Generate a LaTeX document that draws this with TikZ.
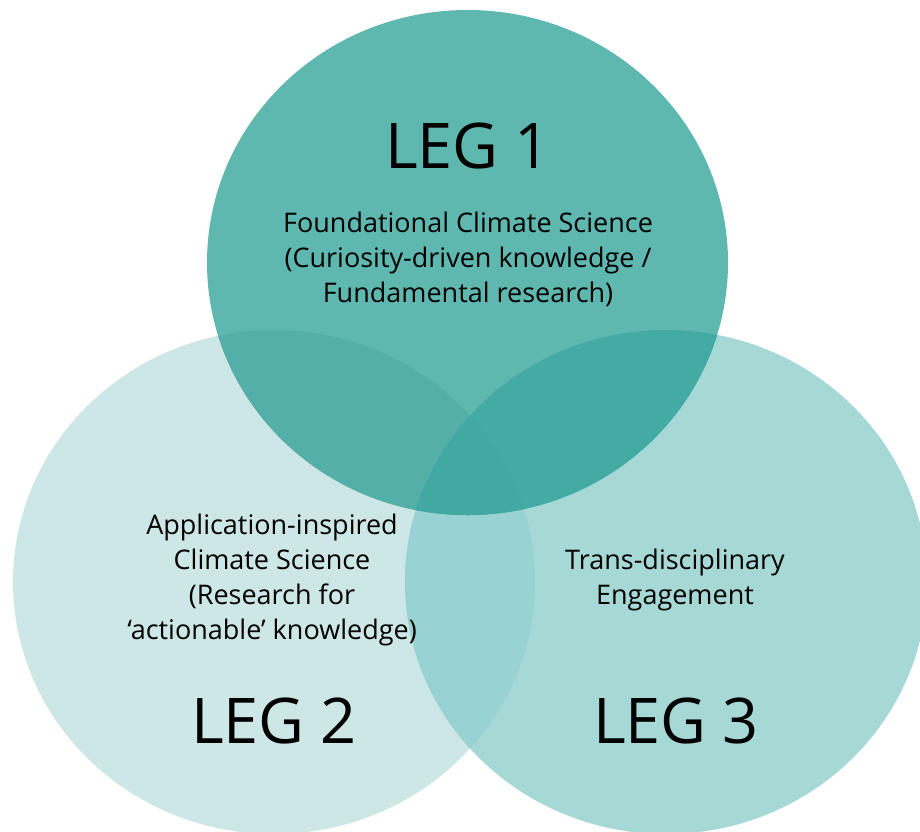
\documentclass[tikz,border=0pt]{standalone}
\usepackage{fontspec}
\setmainfont{Open Sans}
\definecolor{cT}{HTML}{5FB8B0}
\definecolor{cL}{HTML}{CCE7E5}
\definecolor{cR}{HTML}{A6D8D5}
\definecolor{cLR}{HTML}{98D2D2}
\definecolor{cTL}{HTML}{55AFA9}
\definecolor{cTR}{HTML}{43AAA4}
\definecolor{cTLR}{HTML}{42A8A2}
\tikzset{
  leg/.style={font=\fontsize{63}{70}\selectfont, text=black, inner sep=0pt},
  desc/.style={font=\fontsize{27}{35}\selectfont, text=black, align=center, inner sep=0pt},
}
\begin{document}
\begin{tikzpicture}[x=1pt,y=-1pt]
\useasboundingbox (0,0) rectangle (920,831);
\def\Tpath{(467.5,262.5) ellipse [x radius=260.5, y radius=252.5]}
\def\Lpath{(274,582) ellipse [x radius=261, y radius=252]}
\def\Rpath{(666,582) ellipse [x radius=261, y radius=252]}
\begin{scope}
\clip (0,0) rectangle (920,831);
\fill[cL] \Lpath;
\fill[cR] \Rpath;
\fill[cT] \Tpath;
\begin{scope}
\clip \Lpath;
\fill[cLR] \Rpath;
\end{scope}
\begin{scope}
\clip \Tpath;
\fill[cTL] \Lpath;
\fill[cTR] \Rpath;
\clip \Lpath;
\fill[cTLR] \Rpath;
\end{scope}
\end{scope}
\node[leg] (leg1) at (468,146) {LEG 1};
\node[leg] (leg2) at (274,721) {LEG 2};
\node[leg] (leg3) at (676,721) {LEG 3};
\node[desc] (d1) at (468,259) {Foundational Climate Science\\(Curiosity-driven knowledge /\\Fundamental research)};
\node[desc] (d2) at (272,580) {Application-inspired\\Climate Science\\(Research for\\‘actionable’ knowledge)};
\node[desc] (d3) at (675,580) {Trans-disciplinary\\Engagement};
\end{tikzpicture}
\end{document}
